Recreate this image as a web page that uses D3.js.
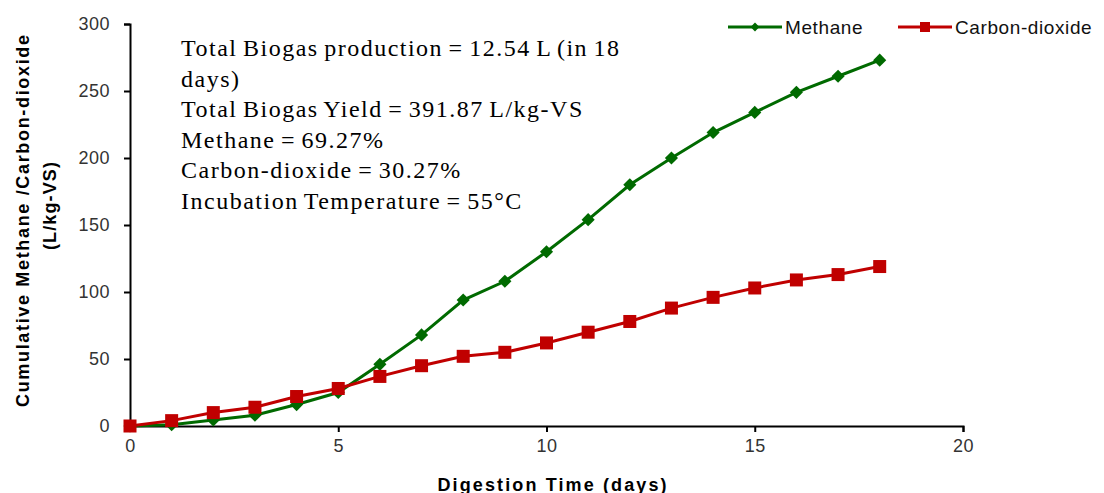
<!DOCTYPE html>
<html>
<head>
<meta charset="utf-8">
<script src="https://cdn.jsdelivr.net/npm/d3@7"></script>
<style>
  body { margin: 0; background: #fff; }
  svg { display: block; }
</style>
</head>
<body>
<svg id="chart" width="1104" height="493"></svg>
<script>
// data
var days = [0, 1, 2, 3, 4, 5, 6, 7, 8, 9, 10, 11, 12, 13, 14, 15, 16, 17, 18];
var methane = [0, 1, 4.5, 8, 16, 25, 46, 68, 94, 108, 130, 154, 180, 200, 219, 234, 249, 261, 273];
var carbonDioxide = [0, 4, 10, 14, 22, 28, 37, 45, 52, 55, 62, 70, 78, 88, 96, 103, 109, 113, 119];
var xTicks = [0, 5, 10, 15, 20];
var yTicks = [0, 50, 100, 150, 200, 250, 300];
var notes = [
  "Total Biogas production = 12.54 L (in 18",
  "days)",
  "Total Biogas Yield = 391.87 L/kg-VS",
  "Methane = 69.27%",
  "Carbon-dioxide = 30.27%",
  "Incubation Temperature = 55°C"
];

var svg = d3.select("#chart");
var padL = 130, padR = 963, padT = 24, padB = 426;
var sans = "Arial, 'Liberation Sans', sans-serif";

var x = d3.scaleLinear().domain([0, 20]).range([padL, padR]);
var y = d3.scaleLinear().domain([0, 300]).range([padB, padT]);

// axes
var xAxis = svg.append("g")
  .attr("transform", "translate(0," + padB + ")")
  .call(d3.axisBottom(x).tickValues(xTicks).tickSizeOuter(0).tickSize(6).tickPadding(7));
var yAxis = svg.append("g")
  .attr("transform", "translate(" + padL + ",0)")
  .call(d3.axisLeft(y).tickValues(yTicks).tickSizeOuter(0).tickSize(6).tickPadding(14));

[xAxis, yAxis].forEach(function(a) {
  a.select(".domain").attr("stroke", "#000").attr("stroke-width", 2);
  a.selectAll(".tick line").attr("stroke", "#000").attr("stroke-width", 2);
  a.selectAll(".tick text")
    .attr("fill", "#333")
    .style("font-family", sans)
    .style("font-size", "18px")
    .style("letter-spacing", "0.5px");
});

// axis titles
svg.append("text")
  .attr("x", 552).attr("y", 491)
  .attr("text-anchor", "middle")
  .attr("textLength", 229).attr("lengthAdjust", "spacing")
  .style("font-family", sans)
  .style("font-size", "18px").style("font-weight", "bold")
  .text("Digestion Time (days)");

svg.append("text")
  .attr("transform", "translate(29,221) rotate(-90)")
  .attr("text-anchor", "middle")
  .attr("textLength", 372).attr("lengthAdjust", "spacing")
  .style("font-family", sans)
  .style("font-size", "18px").style("font-weight", "bold")
  .text("Cumulative Methane /Carbon-dioxide");
svg.append("text")
  .attr("transform", "translate(56,206) rotate(-90)")
  .attr("text-anchor", "middle")
  .attr("textLength", 88).attr("lengthAdjust", "spacing")
  .style("font-family", sans)
  .style("font-size", "18px").style("font-weight", "bold")
  .text("(L/kg-VS)");

// annotation text
svg.append("g").selectAll("text")
  .data(notes)
  .enter()
  .append("text")
  .attr("x", 181)
  .attr("y", function(d, i) { return 56 + i * 30.6; })
  .style("font-family", "'Times New Roman', 'Liberation Serif', serif")
  .style("font-size", "24px")
  .style("letter-spacing", "1.5px")
  .style("word-spacing", "-2px")
  .attr("fill", "#000")
  .text(function(d) { return d; });

var green = "#006a00", red = "#c00000";
var line = d3.line()
  .x(function(d) { return x(d[0]); })
  .y(function(d) { return y(d[1]); });

var mPts = days.map(function(d, i) { return [d, methane[i]]; });
var cPts = days.map(function(d, i) { return [d, carbonDioxide[i]]; });

svg.append("path").datum(mPts)
  .attr("d", line).attr("fill", "none").attr("stroke", green).attr("stroke-width", 3);
svg.append("path").datum(cPts)
  .attr("d", line).attr("fill", "none").attr("stroke", red).attr("stroke-width", 3);

var diamond = d3.symbol().type(d3.symbolDiamond2).size(110);
svg.append("g").selectAll("path")
  .data(mPts)
  .enter()
  .append("path")
  .attr("d", diamond)
  .attr("transform", function(d) { return "translate(" + x(d[0]) + "," + y(d[1]) + ")"; })
  .attr("fill", green);

svg.append("g").selectAll("rect")
  .data(cPts)
  .enter()
  .append("rect")
  .attr("x", function(d) { return x(d[0]) - 6.5; })
  .attr("y", function(d) { return y(d[1]) - 6.5; })
  .attr("width", 13).attr("height", 13)
  .attr("fill", red);

// legend
var legend = [
  { name: "Methane", color: green, x0: 728, mark: "diamond" },
  { name: "Carbon-dioxide", color: red, x0: 898, mark: "square" }
];
legend.forEach(function(l) {
  var g = svg.append("g");
  g.append("line").attr("x1", l.x0).attr("x2", l.x0 + 54).attr("y1", 27).attr("y2", 27)
    .attr("stroke", l.color).attr("stroke-width", 3);
  if (l.mark === "diamond") {
    g.append("path").attr("d", d3.symbol().type(d3.symbolDiamond2).size(50))
      .attr("transform", "translate(" + (l.x0 + 27) + ",27)").attr("fill", l.color);
  } else {
    g.append("rect").attr("x", l.x0 + 22).attr("y", 22).attr("width", 10).attr("height", 10)
      .attr("fill", l.color);
  }
  g.append("text").attr("x", l.x0 + 57).attr("y", 34)
    .style("font-family", sans)
    .style("font-size", "19px").style("letter-spacing", "0.6px").attr("fill", "#111")
    .text(l.name);
});
</script>
</body>
</html>
